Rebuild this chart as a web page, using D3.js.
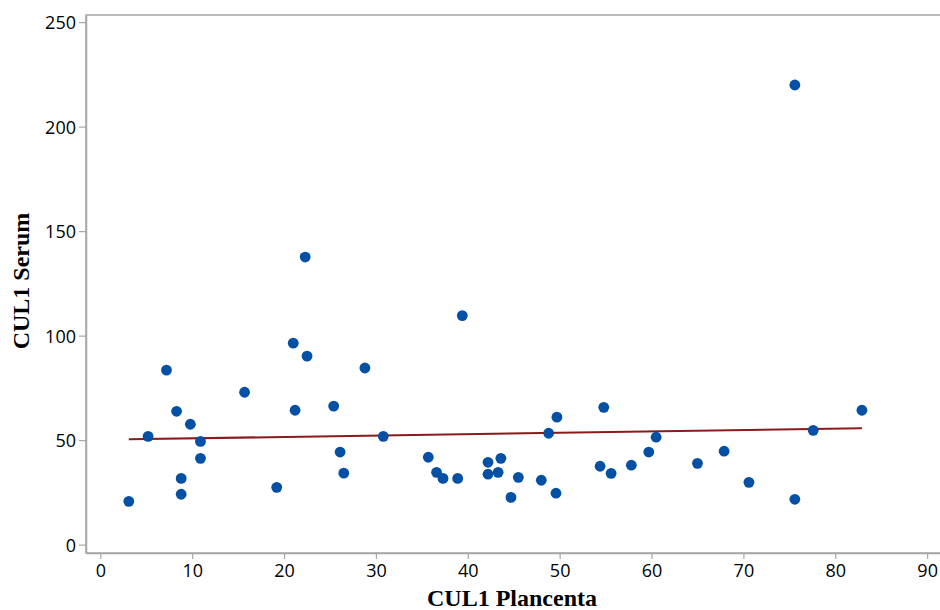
<!DOCTYPE html>
<html>
<head>
<meta charset="utf-8">
<script src="https://cdn.jsdelivr.net/npm/d3@7"></script>
<style>
	body { margin: 0; background: #fff; }
	.tick text { font-family: "Open Sans", "Noto Sans", sans-serif; font-size: 18px; fill: #000; }
	.axis-title { font-family: "Liberation Serif", "DejaVu Serif", serif; font-weight: bold; font-size: 24px; fill: #000; }
</style>
</head>
<body>
<svg id="chart" width="940" height="610"></svg>
<script>
// CUL1 in placenta (x) vs serum (y)
var placenta = [3.1, 5.2, 7.2, 8.3, 8.8, 8.8, 9.8, 10.9, 10.9, 15.7, 19.2, 21.0, 21.2, 22.3, 22.5,
	25.4, 26.1, 26.5, 28.8, 30.8, 35.7, 36.6, 37.3, 38.9, 39.4, 42.2, 42.2, 43.3, 43.6, 44.7,
	45.5, 48.0, 48.8, 49.6, 49.7, 54.4, 54.8, 55.6, 57.8, 59.7, 60.5, 65.0, 67.9, 70.6, 75.6,
	75.6, 77.6, 82.9];
var serum = [20.7, 51.8, 83.5, 63.8, 31.7, 24.1, 57.6, 49.4, 41.3, 72.9, 27.4, 96.4, 64.3, 137.6, 90.2,
	66.3, 44.3, 34.2, 84.5, 51.8, 41.8, 34.6, 31.7, 31.7, 109.6, 39.4, 33.7, 34.6, 41.3, 22.6,
	32.2, 30.8, 53.3, 24.6, 61.0, 37.5, 65.7, 34.1, 38.0, 44.3, 51.4, 38.9, 44.7, 29.8, 219.9,
	21.7, 54.7, 64.3];
var xTicks = [0, 10, 20, 30, 40, 50, 60, 70, 80, 90];
var yTicks = [0, 50, 100, 150, 200, 250];
// fitted line end points
var fitX = [3.1, 82.9];
var fitY = [50.4, 55.7];

var svg = d3.select("#chart");
var plotLeft = 86, plotRight = 940, plotTop = 15, plotBottom = 553;

var x = d3.scaleLinear().domain([-1.56, 91.4]).range([plotLeft, plotRight]);
var y = d3.scaleLinear().domain([-4.0, 253.4]).range([plotBottom, plotTop]);

// frame
svg.append("rect")
	.attr("x", plotLeft).attr("y", plotTop)
	.attr("width", plotRight - plotLeft + 2).attr("height", plotBottom - plotTop)
	.attr("fill", "none")
	.attr("stroke", "#a6a6a6")
	.attr("stroke-width", 1.5);

var xAxis = svg.append("g")
	.attr("transform", "translate(0," + plotBottom + ")")
	.call(d3.axisBottom(x).tickValues(xTicks).tickSize(6).tickSizeOuter(0).tickPadding(3).tickFormat(d3.format("d")));

var yAxis = svg.append("g")
	.attr("transform", "translate(" + plotLeft + ",0)")
	.call(d3.axisLeft(y).tickValues(yTicks).tickSize(7).tickSizeOuter(0).tickPadding(3).tickFormat(d3.format("d")));

[xAxis, yAxis].forEach(function(g) {
	g.select(".domain").attr("stroke", "#a6a6a6").attr("stroke-width", 1.5);
	g.selectAll(".tick line").attr("stroke", "#a6a6a6").attr("stroke-width", 1.2);
});
xAxis.selectAll(".tick text").attr("dy", "0.85em");
yAxis.selectAll(".tick text").attr("dy", "0.36em");

// fitted line
var line = d3.line()
	.x(function(d) { return x(d[0]); })
	.y(function(d) { return y(d[1]); });

svg.append("path")
	.datum(d3.zip(fitX, fitY))
	.attr("d", line)
	.attr("fill", "none")
	.attr("stroke", "#8b1a1a")
	.attr("stroke-width", 2);

// points
svg.append("g")
	.selectAll("circle")
	.data(d3.zip(placenta, serum))
	.enter()
	.append("circle")
	.attr("cx", function(d) { return x(d[0]); })
	.attr("cy", function(d) { return y(d[1]); })
	.attr("r", 5.4)
	.attr("fill", "#0350a4");

// axis titles
svg.append("text")
	.attr("class", "axis-title")
	.attr("x", 512).attr("y", 606)
	.attr("text-anchor", "middle")
	.text("CUL1 Plancenta");

svg.append("text")
	.attr("class", "axis-title")
	.attr("transform", "translate(29,281) rotate(-90)")
	.attr("text-anchor", "middle")
	.text("CUL1 Serum");
</script>
</body>
</html>
